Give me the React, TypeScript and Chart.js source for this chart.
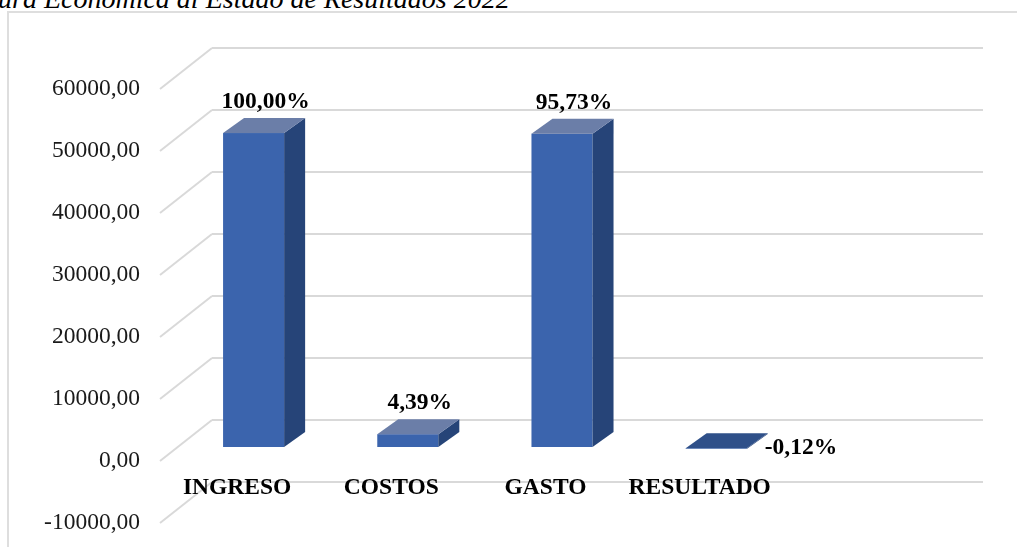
import React, { useEffect, useRef } from "react";
import { Chart, registerables } from "chart.js";

Chart.register(...registerables);

// ---- data ----
const categories = ["INGRESO", "COSTOS", "GASTO", "RESULTADO", ""];
const values = [50800, 2230, 50700, -60];
const pctLabels = ["100,00%", "4,39%", "95,73%", "-0,12%"];
const yMin = -10000;
const yMax = 60000;
const yStep = 10000;
const titleText = "ura Económica al Estado de Resultados 2022";

// ---- style ----
const FONT = "'Liberation Serif', 'Times New Roman', serif";
const GRID = "#d9d9d9";
const FRONT = "#3b64ad";
const SIDE = "#264478";
const TOP = "#6b7ea8";
const TOP_NEG = "#2f5089";
const FLOOR_DX = -52;
const FLOOR_DY = 41;
const FRONT_DX = -35.5;
const FRONT_DY = 28;
const DEPTH_DX = 21;
const DEPTH_DY = -15;

function poly(ctx: CanvasRenderingContext2D, pts: number[][], color: string) {
  ctx.beginPath();
  ctx.moveTo(pts[0][0], pts[0][1]);
  for (let i = 1; i < pts.length; i++) ctx.lineTo(pts[i][0], pts[i][1]);
  ctx.closePath();
  ctx.fillStyle = color;
  ctx.fill();
}

const threeD = {
  id: "threeD",
  beforeDatasetsDraw(chart: any) {
    const ctx = chart.ctx as CanvasRenderingContext2D;
    const ys = chart.scales.y;
    const left = chart.chartArea.left;
    ctx.save();
    ctx.strokeStyle = GRID;
    ctx.lineWidth = 2;
    ys.ticks.forEach((t: any) => {
      const y = ys.getPixelForValue(t.value);
      ctx.beginPath();
      ctx.moveTo(left, y);
      ctx.lineTo(left + FLOOR_DX, y + FLOOR_DY);
      ctx.stroke();
    });
    ctx.restore();
  },
  afterDatasetsDraw(chart: any) {
    const ctx = chart.ctx as CanvasRenderingContext2D;
    const xs = chart.scales.x;
    const ys = chart.scales.y;
    const meta = chart.getDatasetMeta(0);
    ctx.save();
    meta.data.forEach((bar: any, i: number) => {
      const v = values[i];
      if (v == null) return;
      const l = bar.x - bar.width / 2 + FRONT_DX;
      const r = bar.x + bar.width / 2 + FRONT_DX;
      const top = Math.min(bar.y, bar.base) + FRONT_DY;
      const bot = Math.max(bar.y, bar.base) + FRONT_DY;
      // front face
      ctx.fillStyle = FRONT;
      ctx.fillRect(l, top, r - l, Math.max(bot - top, 0.5));
      // side face
      poly(ctx, [[r, top], [r + DEPTH_DX, top + DEPTH_DY], [r + DEPTH_DX, bot + DEPTH_DY], [r, bot]], SIDE);
      // top face
      poly(ctx, [[l, top], [r, top], [r + DEPTH_DX, top + DEPTH_DY], [l + DEPTH_DX, top + DEPTH_DY]], v < 0 ? TOP_NEG : TOP);
      // value label
      ctx.fillStyle = "#000";
      ctx.font = `bold 23.5px ${FONT}`;
      ctx.textBaseline = "middle";
      if (v >= 0) {
        ctx.textAlign = "center";
        ctx.fillText(pctLabels[i], (l + r) / 2 + 12, top + DEPTH_DY - 16);
      } else {
        ctx.textAlign = "left";
        ctx.fillText(pctLabels[i], r + 18, bot - 1);
      }
    });
    // category labels on the front edge of the floor
    ctx.fillStyle = "#000";
    ctx.font = `bold 23.5px ${FONT}`;
    ctx.textAlign = "center";
    ctx.textBaseline = "middle";
    const y0 = ys.getPixelForValue(0) + FLOOR_DY + 27;
    categories.forEach((c, i) => {
      if (!c) return;
      ctx.fillText(c, xs.getPixelForValue(i) + FLOOR_DX, y0);
    });
    ctx.restore();
  },
};

export default function App() {
  const ref = useRef<HTMLCanvasElement | null>(null);
  useEffect(() => {
    if (!ref.current) return;
    const chart = new Chart(ref.current, {
      type: "bar",
      data: {
        labels: categories,
        datasets: [
          {
            data: values,
            backgroundColor: "rgba(0,0,0,0)",
            borderWidth: 0,
            barPercentage: 0.396,
            categoryPercentage: 1,
          },
        ],
      },
      options: {
        animation: false,
        responsive: false,
        devicePixelRatio: 1,
        layout: { padding: { left: 0, right: 34, top: 48, bottom: 65 } },
        plugins: {
          legend: { display: false },
          tooltip: { enabled: false },
        },
        scales: {
          x: {
            grid: { display: false },
            border: { display: false },
            ticks: { display: false },
            afterFit: (s: any) => {
              s.height = 0;
              s.paddingLeft = 0;
              s.paddingRight = 0;
            },
          },
          y: {
            min: yMin,
            max: yMax,
            ticks: {
              stepSize: yStep,
              padding: 72,
              labelOffset: 41,
              color: "#1a1a1a",
              font: { family: FONT, size: 23.5 },
              callback: (v: any) => Number(v).toFixed(2).replace(".", ","),
            },
            grid: { color: GRID, lineWidth: 2, drawTicks: false },
            border: { display: false },
            afterFit: (s: any) => {
              s.width = 212;
              s.paddingTop = 0;
              s.paddingBottom = 0;
            },
          },
        },
      },
      plugins: [threeD],
    } as any);
    return () => chart.destroy();
  }, []);

  return (
    <div style={{ position: "fixed", left: 0, top: 0, width: 1017, height: 547, overflow: "hidden", background: "#fff" }}>
      <div
        style={{
          position: "absolute",
          left: 7,
          top: 11,
          width: 1100,
          height: 600,
          border: "2px solid #dedede",
          boxSizing: "border-box",
        }}
      />
      <div
        style={{
          position: "absolute",
          left: -2,
          top: -15.4,
          fontFamily: FONT,
          fontStyle: "italic",
          fontSize: 28,
          lineHeight: "28px",
          whiteSpace: "nowrap",
          color: "#000",
        }}
      >
        {titleText}
      </div>
      <canvas ref={ref} width={1017} height={547} style={{ position: "absolute", left: 0, top: 0, width: 1017, height: 547 }} />
    </div>
  );
}
